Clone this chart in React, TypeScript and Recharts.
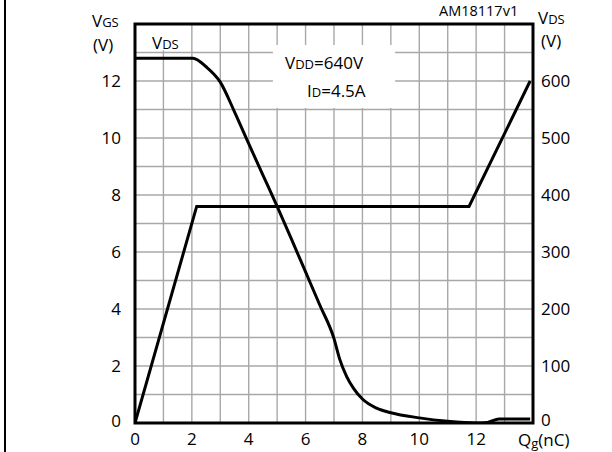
import {
  ComposedChart,
  Line,
  XAxis,
  YAxis,
  CartesianGrid,
  ReferenceArea,
} from "recharts";

// gate charge, nC
const vgsCharge = [0, 2.17, 11.75, 13.9];
// gate-source voltage, V
const vgsVolts = [0, 7.6, 7.6, 12];

const vdsCharge = [
  0, 2.04, 2.5, 3.0, 3.5, 4.0, 4.5, 5.0, 5.5, 6.0, 6.5, 7.0, 7.2, 7.45, 7.7,
  8.0, 8.5, 9.0, 10, 11, 12, 12.4, 12.8, 13.9,
];
// drain-source voltage, V
const vdsVolts = [
  640, 640, 625, 598, 546, 490, 435, 380, 323, 265, 207, 148, 112, 81, 60, 42,
  26, 18, 9, 3, 0, 1, 7, 7,
];

// grid every 1 nC / 1 V, labels every other line
const gridSteps = [0, 1, 2, 3, 4, 5, 6, 7, 8, 9, 10, 11, 12, 13, 14];
const xLabels = [0, 2, 4, 6, 8, 10, 12];
const vgsLabels = [0, 2, 4, 6, 8, 10, 12];
const vdsTicks = [0, 100, 200, 300, 400, 500, 600];

const vgsData = vgsCharge.map((q, i) => ({ q, v: vgsVolts[i] }));
const vdsData = vdsCharge.map((q, i) => ({ q, v: vdsVolts[i] }));

const FONT = "'Open Sans', sans-serif";

const makeTick =
  (shown: number[], anchor: string, dy: string, zeroShift = 0) =>
  (props: any) => {
    const { x, y, payload } = props;
    if (!shown.includes(payload.value)) return <g />;
    return (
      <text
        x={x}
        y={payload.value === 0 ? y + zeroShift : y}
        dy={dy}
        textAnchor={anchor}
        fontSize={17}
        fontFamily={FONT}
        fill="#000"
      >
        {payload.value}
      </text>
    );
  };

const XTick = makeTick(xLabels, "middle", "0.71em");
const LeftTick = makeTick(vgsLabels, "end", "0.355em", -2);
const RightTick = makeTick(vdsTicks, "start", "0.355em", -3);

const Labels = () => (
  <svg
    width={612}
    height={452}
    style={{ position: "absolute", left: 0, top: 0, pointerEvents: "none" }}
    fontFamily={FONT}
    fill="#000"
  >
    <text x={92} y={27} fontSize={17}>
      V<tspan fontSize={13}>GS</tspan>
    </text>
    <text x={93} y={51} fontSize={17}>(V)</text>
    <text x={152} y={49} fontSize={17}>
      V<tspan fontSize={13}>DS</tspan>
    </text>
    <text x={538} y={24} fontSize={17}>
      V<tspan fontSize={13}>DS</tspan>
    </text>
    <text x={541} y={47} fontSize={17}>(V)</text>
    <text x={439} y={16} fontSize={14.5}>AM18117v1</text>
    <text x={285} y={69} fontSize={17}>
      V<tspan fontSize={13}>DD</tspan>=640V
    </text>
    <text x={307} y={97} fontSize={17}>
      I<tspan fontSize={13}>D</tspan>=4.5A
    </text>
    <text x={518} y={446} fontSize={17}>
      Q<tspan fontSize={13} dy={2}>g</tspan>
      <tspan dy={-2}>(nC)</tspan>
    </text>
  </svg>
);

export default function App() {
  return (
    <div
      style={{
        position: "absolute",
        left: 0,
        top: 0,
        width: 612,
        height: 452,
        background: "#fff",
      }}
    >
      <div
        style={{
          position: "absolute",
          left: 4,
          top: 0,
          width: 2,
          height: 452,
          background: "#000",
        }}
      />
      <ComposedChart
        width={612}
        height={452}
        margin={{ top: 24, right: 39, left: 95, bottom: 9 }}
      >
        <CartesianGrid yAxisId="left" stroke="#a8a8a8" strokeWidth={1.4} />
        <ReferenceArea
          yAxisId="left"
          x1={0}
          x2={1.4}
          y1={13.08}
          y2={14}
          fill="#fff"
          fillOpacity={1}
          stroke="none"
        />
        <ReferenceArea
          yAxisId="left"
          x1={4.85}
          x2={9.15}
          y1={11.05}
          y2={13.26}
          fill="#fff"
          fillOpacity={1}
          stroke="none"
        />
        <XAxis
          dataKey="q"
          type="number"
          domain={[0, 14]}
          ticks={gridSteps}
          interval={0}
          height={20}
          tickLine={false}
          tickSize={0}
          tickMargin={10}
          axisLine={false}
          tick={XTick}
          allowDataOverflow
        />
        <YAxis
          yAxisId="left"
          type="number"
          domain={[0, 14]}
          ticks={gridSteps}
          interval={0}
          width={40}
          tickLine={false}
          tickSize={0}
          tickMargin={14}
          axisLine={false}
          tick={LeftTick}
          allowDataOverflow
        />
        <YAxis
          yAxisId="right"
          orientation="right"
          type="number"
          domain={[0, 700]}
          ticks={vdsTicks}
          interval={0}
          width={40}
          tickLine={false}
          tickSize={0}
          tickMargin={8}
          axisLine={false}
          tick={RightTick}
          allowDataOverflow
        />
        <Line
          yAxisId="left"
          data={vgsData}
          dataKey="v"
          type="linear"
          stroke="#000"
          strokeWidth={3}
          dot={false}
          isAnimationActive={false}
        />
        <Line
          yAxisId="right"
          data={vdsData}
          dataKey="v"
          type="monotone"
          stroke="#000"
          strokeWidth={3}
          dot={false}
          isAnimationActive={false}
        />
        <ReferenceArea
          yAxisId="left"
          x1={0}
          x2={14}
          y1={0}
          y2={14}
          fill="none"
          stroke="#000"
          strokeWidth={3}
          ifOverflow="visible"
        />
      </ComposedChart>
      <Labels />
    </div>
  );
}
